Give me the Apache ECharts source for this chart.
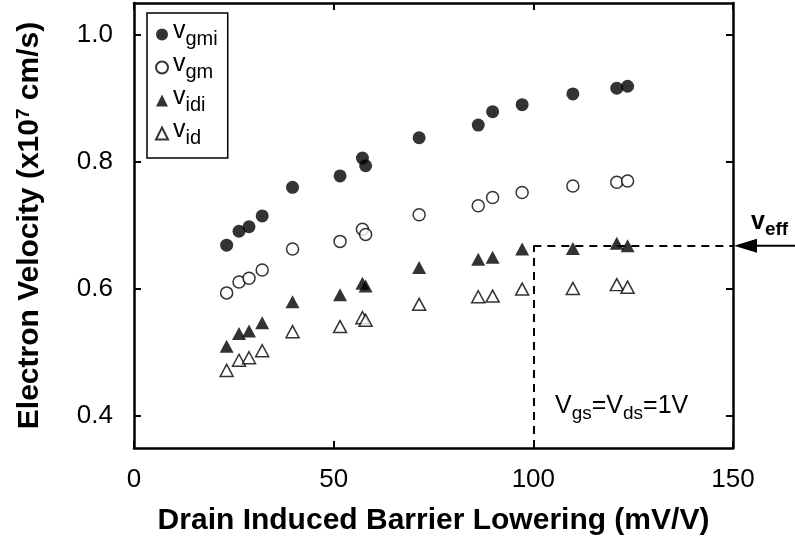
<!DOCTYPE html>
<html>
<head>
<meta charset="utf-8">
<script src="https://cdn.jsdelivr.net/npm/echarts@6.0.0/dist/echarts.min.js"></script>
<style>
html, body { margin: 0; padding: 0; background: #fff; }
#chart { width: 795px; height: 548px; }
</style>
</head>
<body>
<div id="chart"></div>
<script>
// drain induced barrier lowering (mV/V), same for all four series
var dibl = [23.2, 26.3, 28.8, 32.1, 39.7, 51.6, 57.2, 58.0, 71.4, 86.2, 89.8, 97.2, 109.9, 120.9, 123.6]
var vgmi = [0.669, 0.691, 0.698, 0.715, 0.760, 0.778, 0.806, 0.794, 0.838, 0.858, 0.879, 0.890, 0.907, 0.916, 0.919]
var vgm = [0.594, 0.611, 0.617, 0.630, 0.663, 0.675, 0.694, 0.686, 0.717, 0.731, 0.744, 0.752, 0.762, 0.768, 0.770]
var vidi = [0.510, 0.530, 0.534, 0.547, 0.580, 0.591, 0.609, 0.605, 0.634, 0.647, 0.650, 0.663, 0.664, 0.672, 0.668]
var vid = [0.472, 0.488, 0.492, 0.503, 0.533, 0.541, 0.555, 0.551, 0.576, 0.588, 0.589, 0.600, 0.601, 0.607, 0.603]
var seriesNames = ['vgmi', 'vgm', 'vidi', 'vid']
var yTicks = [0.4, 0.6, 0.8, 1.0]
var veff = 0.668
var diblRef = 100

var FONT = '"Liberation Sans", Arial, Helvetica, sans-serif'

function pairs(ys) {
	return dibl.map(function (x, i) {
		return [x, ys[i]]
	})
}

function subName(name) {
	return '{v|v}{s|' + name.slice(1) + '}'
}

var filled = { color: '#000' }
var open = { color: '#fff', borderColor: '#000', borderWidth: 1.5 }

var option = {
	animation: false,
	backgroundColor: '#fff',
	grid: { left: 134, right: 62, top: 3, bottom: 100 },
	legend: {
		orient: 'vertical',
		left: 147,
		top: 13,
		padding: [6, 10, 10, 8],
		itemGap: 3,
		itemWidth: 12,
		itemHeight: 12,
		borderColor: '#000',
		borderWidth: 1.5,
		data: seriesNames,
		formatter: subName,
		textStyle: {
			color: '#000',
			fontFamily: FONT,
			rich: {
				v: { fontSize: 25, fontFamily: FONT, color: '#000', padding: [0, 0, 6, 0] },
				s: { fontSize: 20, fontFamily: FONT, color: '#000', padding: [9, 0, 0, 0] },
			},
		},
	},
	xAxis: [
		{
			type: 'value',
			min: 0,
			max: 150,
			interval: 50,
			name: 'Drain Induced Barrier Lowering (mV/V)',
			nameLocation: 'middle',
			nameGap: 58,
			nameTextStyle: { fontFamily: FONT, fontSize: 30, fontWeight: 'bold', color: '#000' },
			axisLine: { onZero: false, lineStyle: { color: '#000', width: 2.5 } },
			axisTick: { inside: true, length: 7, lineStyle: { color: '#000', width: 2 } },
			axisLabel: { fontFamily: FONT, fontSize: 26, color: '#000', margin: 19 },
			splitLine: { show: false },
		},
		{
			type: 'value',
			position: 'top',
			min: 0,
			max: 150,
			interval: 50,
			axisLine: { onZero: false, lineStyle: { color: '#000', width: 2.5 } },
			axisTick: { inside: true, length: 7, lineStyle: { color: '#000', width: 2 } },
			axisLabel: { show: false },
			splitLine: { show: false },
		},
	],
	yAxis: [
		{
			type: 'value',
			min: 0.35,
			max: 1.05,
			name: '{a|Electron Velocity (x10}{b|7}{a| cm/s)}',
			nameLocation: 'middle',
			nameGap: 88,
			nameTextStyle: {
				color: '#000',
				rich: {
					a: { fontFamily: FONT, fontSize: 30, fontWeight: 'bold', color: '#000' },
					b: { fontFamily: FONT, fontSize: 19, fontWeight: 'bold', color: '#000', padding: [0, 0, 13, 0] },
				},
			},
			axisLine: { onZero: false, lineStyle: { color: '#000', width: 2.5 } },
			axisTick: { inside: true, length: 7, customValues: yTicks, lineStyle: { color: '#000', width: 2 } },
			axisLabel: {
				fontFamily: FONT,
				fontSize: 26,
				color: '#000',
				margin: 21,
				customValues: yTicks,
				formatter: function (v) {
					return v.toFixed(1)
				},
			},
			splitLine: { show: false },
		},
		{
			type: 'value',
			position: 'right',
			min: 0.35,
			max: 1.05,
			axisLine: { onZero: false, lineStyle: { color: '#000', width: 2.5 } },
			axisTick: { inside: true, length: 7, customValues: yTicks, lineStyle: { color: '#000', width: 2 } },
			axisLabel: { show: false },
			splitLine: { show: false },
		},
	],
	series: [
		{
			name: 'vgmi',
			type: 'scatter',
			symbol: 'circle',
			symbolSize: 13,
			itemStyle: filled,
			data: pairs(vgmi),
		},
		{
			name: 'vgm',
			type: 'scatter',
			symbol: 'circle',
			symbolSize: 12,
			itemStyle: open,
			data: pairs(vgm),
		},
		{
			name: 'vidi',
			type: 'scatter',
			symbol: 'triangle',
			symbolSize: [14, 13],
			itemStyle: filled,
			data: pairs(vidi),
			markLine: {
				silent: true,
				symbol: 'none',
				label: { show: false },
				lineStyle: { color: '#000', width: 2, type: [8, 6] },
				data: [
					[{ coord: [diblRef, 0.35] }, { coord: [diblRef, veff] }],
					[{ coord: [diblRef, veff] }, { coord: [150, veff] }],
				],
			},
		},
		{
			name: 'vid',
			type: 'scatter',
			symbol: 'triangle',
			symbolSize: [13, 12],
			itemStyle: open,
			data: pairs(vid),
		},
	],
}

var chart = echarts.init(document.getElementById('chart'), null, { renderer: 'canvas' })
chart.setOption(option)

// arrow and annotations outside / inside the frame
var yEff = chart.convertToPixel({ yAxisIndex: 0 }, veff)
var xRight = chart.convertToPixel({ xAxisIndex: 0 }, 150)
chart.setOption({
	graphic: [
		{
			type: 'line',
			shape: { x1: xRight + 20, y1: yEff, x2: 795, y2: yEff },
			style: { stroke: '#000', lineWidth: 2 },
		},
		{
			type: 'polygon',
			shape: { points: [[xRight + 1, yEff], [xRight + 24, yEff - 7], [xRight + 24, yEff + 7]] },
			style: { fill: '#000' },
		},
		{
			type: 'text',
			x: 751,
			y: 210,
			style: {
				text: '{v|v}{s|eff}',
				rich: {
					v: { fontFamily: FONT, fontSize: 25, fontWeight: 'bold', fill: '#000', padding: [0, 0, 6, 0] },
					s: { fontFamily: FONT, fontSize: 19, fontWeight: 'bold', fill: '#000', padding: [9, 0, 0, 0] },
				},
			},
		},
		{
			type: 'text',
			x: 555,
			y: 394,
			style: {
				text: '{v|V}{s|gs}{v|=V}{s|ds}{v|=1V}',
				rich: {
					v: { fontFamily: FONT, fontSize: 25, fill: '#000', padding: [0, 0, 6, 0] },
					s: { fontFamily: FONT, fontSize: 19, fill: '#000', padding: [9, 0, 0, 0] },
				},
			},
		},
	],
})
</script>
</body>
</html>
